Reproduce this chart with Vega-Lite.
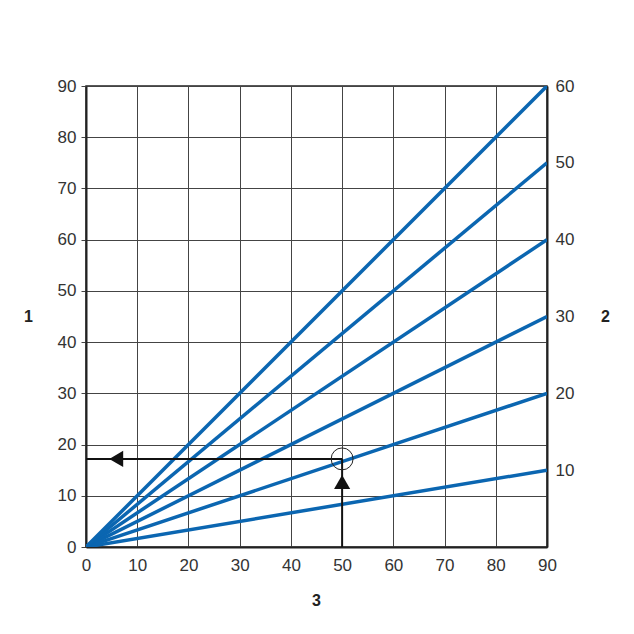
{
  "$schema": "https://vega.github.io/schema/vega-lite/v6.json",
  "width": 461,
  "height": 461,
  "autosize": "none",
  "padding": {"left": 86, "top": 86, "right": 87, "bottom": 87},
  "background": "white",
  "config": {
    "view": {"stroke": "#222", "strokeWidth": 1.5},
    "font": "Liberation Sans",
    "axis": {
      "labelFont": "Liberation Sans",
      "labelFontSize": 17,
      "labelColor": "#333",
      "titleFont": "Liberation Sans",
      "titleFontSize": 16,
      "titleFontWeight": "bold",
      "titleColor": "#222",
      "domainColor": "#222",
      "domainWidth": 2,
      "gridColor": "#444",
      "gridWidth": 1,
      "gridOpacity": 1,
      "tickColor": "#444"
    }
  },
  "datasets": {
    "lines": [
      {"s": "a", "x": 0, "y": 0}, {"s": "a", "x": 90, "y": 15},
      {"s": "b", "x": 0, "y": 0}, {"s": "b", "x": 90, "y": 30},
      {"s": "c", "x": 0, "y": 0}, {"s": "c", "x": 90, "y": 45},
      {"s": "d", "x": 0, "y": 0}, {"s": "d", "x": 90, "y": 60},
      {"s": "e", "x": 0, "y": 0}, {"s": "e", "x": 90, "y": 75},
      {"s": "f", "x": 0, "y": 0}, {"s": "f", "x": 90, "y": 90}
    ],
    "guide": [
      {"x": 0, "y": 17.2, "x2": 50, "y2": 17.2},
      {"x": 50, "y": 0, "x2": 50, "y2": 17.2}
    ],
    "circle": [{"x": 50, "y": 17.2}],
    "arrowLeft": [{"x": 5.9, "y": 17.2}],
    "arrowUp": [{"x": 50, "y": 12.7}]
  },
  "resolve": {"axis": {"y": "independent"}},
  "layer": [
    {
      "data": {"name": "lines"},
      "mark": {"type": "line", "color": "#0b66b1", "strokeWidth": 3.5, "clip": true},
      "encoding": {
        "x": {
          "field": "x", "type": "quantitative",
          "scale": {"domain": [0, 90], "nice": false},
          "axis": {"values": [0,10,20,30,40,50,60,70,80,90], "ticks": false, "labelPadding": 10, "title": "3", "titleX": 230, "titleY": 53, "titleBaseline": "middle", "grid": true, "labelFlush": false}
        },
        "y": {
          "field": "y", "type": "quantitative",
          "scale": {"domain": [0, 90], "nice": false},
          "axis": {"values": [0,10,20,30,40,50,60,70,80,90], "tickSize": 5, "labelPadding": 5, "title": "1", "titleAngle": 0, "titleX": -58, "titleY": 230, "titleAlign": "center", "titleBaseline": "middle", "grid": true, "labelFlush": false}
        },
        "detail": {"field": "s"}
      }
    },
    {
      "data": {"name": "guide"},
      "mark": {"type": "rule", "color": "#111", "strokeWidth": 2},
      "encoding": {
        "x": {"field": "x", "type": "quantitative"},
        "x2": {"field": "x2"},
        "y": {"field": "y", "type": "quantitative", "axis": null},
        "y2": {"field": "y2"}
      }
    },
    {
      "data": {"name": "circle"},
      "mark": {"type": "point", "shape": "circle", "filled": false, "stroke": "#222", "strokeWidth": 1, "size": 480, "opacity": 1},
      "encoding": {
        "x": {"field": "x", "type": "quantitative"},
        "y": {
          "field": "y", "type": "quantitative",
          "axis": {"orient": "right", "values": [15,30,45,60,75,90], "labelExpr": "format(datum.value / 1.5, 'd')", "ticks": false, "domain": true, "grid": false, "labelPadding": 8, "title": "2", "titleAngle": 0, "titleX": 58, "titleY": 230, "titleAlign": "center", "titleBaseline": "middle", "labelFlush": false}
        }
      }
    },
    {
      "data": {"name": "arrowLeft"},
      "mark": {"type": "point", "shape": "triangle-left", "filled": true, "color": "#111", "size": 260, "opacity": 1},
      "encoding": {
        "x": {"field": "x", "type": "quantitative"},
        "y": {"field": "y", "type": "quantitative", "axis": null}
      }
    },
    {
      "data": {"name": "arrowUp"},
      "mark": {"type": "point", "shape": "triangle-up", "filled": true, "color": "#111", "size": 260, "opacity": 1},
      "encoding": {
        "x": {"field": "x", "type": "quantitative"},
        "y": {"field": "y", "type": "quantitative", "axis": null}
      }
    }
  ]
}
